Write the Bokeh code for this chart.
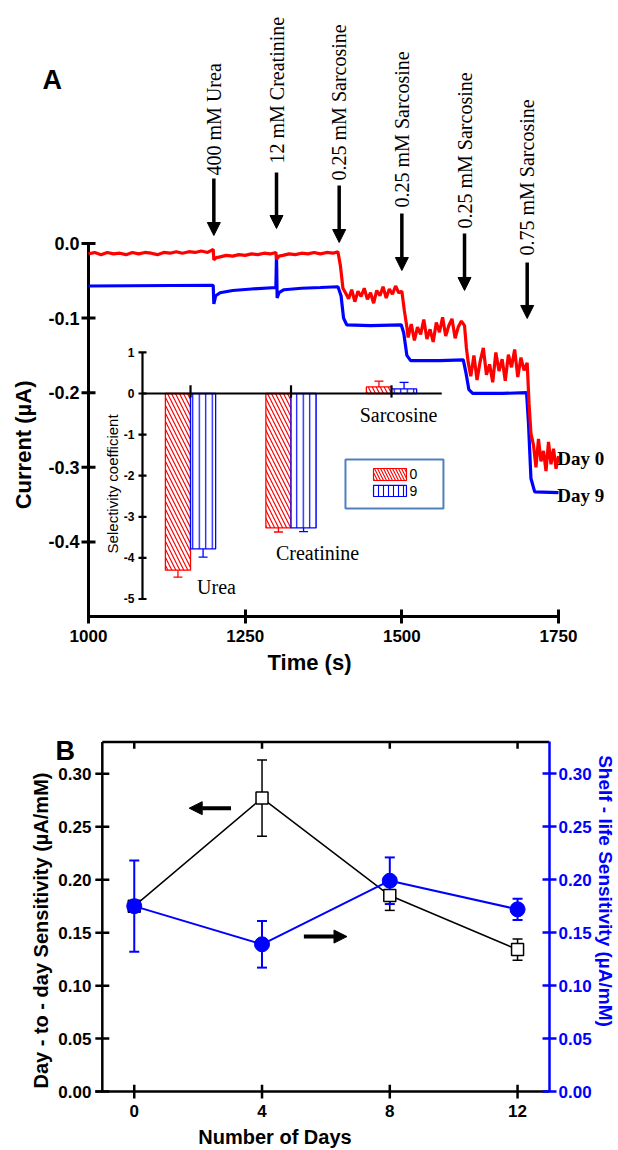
import math
from bokeh.plotting import figure
from bokeh.models import (Range1d, FixedTicker, PrintfTickFormatter, Arrow,
                          NormalHead, Whisker, TeeHead, ColumnDataSource)
from bokeh.embed import file_html
from bokeh.resources import INLINE
from bokeh.core.properties import value

# ---------------- Panel A data ----------------
red_t = [1000, 1010, 1020, 1030, 1040, 1050, 1060, 1070, 1080, 1090, 1100, 1110, 1120, 1130, 1140, 1150,
         1160, 1170, 1180, 1190, 1199,
         1200, 1204, 1210, 1220, 1230, 1240, 1250, 1260, 1270, 1280, 1290, 1299,
         1300, 1304, 1310, 1320, 1330, 1340, 1350, 1360, 1370, 1380, 1390, 1398,
         1402, 1406, 1410,
         1415, 1420, 1425, 1430, 1435, 1440, 1445, 1450, 1455, 1460, 1465, 1470, 1475, 1480, 1485, 1490, 1495,
         1500, 1504, 1508,
         1510, 1515, 1520, 1525, 1530, 1535, 1540, 1545, 1550, 1555, 1560, 1565, 1570, 1575, 1580, 1585, 1590, 1595,
         1600, 1603, 1606,
         1610, 1615, 1620, 1625, 1630, 1635, 1640, 1645, 1650, 1655, 1660, 1665, 1670, 1675, 1680, 1685, 1690, 1695,
         1700, 1703, 1706,
         1710, 1714, 1718, 1722, 1726, 1730, 1734, 1738, 1742, 1746, 1750]
red_i = [-0.014, -0.012, -0.015, -0.012, -0.014, -0.013, -0.015, -0.012, -0.014, -0.012, -0.013, -0.015, -0.012,
         -0.013, -0.011, -0.013, -0.011, -0.012, -0.010, -0.012, -0.008,
         -0.022, -0.019, -0.018, -0.016, -0.017, -0.015, -0.016, -0.014, -0.015, -0.013, -0.014, -0.012,
         -0.021, -0.017, -0.016, -0.014, -0.015, -0.013, -0.014, -0.012, -0.014, -0.012, -0.013, -0.011,
         -0.030, -0.060, -0.066,
         -0.074, -0.062, -0.078, -0.064, -0.071, -0.060, -0.075, -0.066, -0.080, -0.063, -0.070, -0.058, -0.073,
         -0.061, -0.068, -0.057, -0.066,
         -0.064, -0.090, -0.112,
         -0.126, -0.108, -0.130, -0.112, -0.122, -0.102, -0.128, -0.115, -0.132, -0.106, -0.119, -0.099, -0.124,
         -0.110, -0.101, -0.127, -0.112, -0.104,
         -0.110, -0.140, -0.160,
         -0.178, -0.150, -0.183, -0.158, -0.140, -0.176, -0.162, -0.186, -0.146, -0.171, -0.155, -0.184, -0.149,
         -0.166, -0.142, -0.179, -0.153, -0.170,
         -0.160, -0.215, -0.255,
         -0.270, -0.300, -0.262, -0.292, -0.278, -0.305, -0.266, -0.296, -0.275, -0.302, -0.285]

blue_t = [1000, 1199, 1200, 1203, 1210, 1230, 1260, 1299, 1300, 1301, 1304, 1312, 1340, 1370, 1398,
          1403, 1407, 1412, 1450, 1499, 1503, 1508, 1514, 1560, 1598, 1602, 1607, 1613, 1660, 1699,
          1702, 1706, 1712, 1750]
blue_i = [-0.057, -0.056, -0.081, -0.070, -0.066, -0.063, -0.061, -0.059, -0.015, -0.073, -0.066, -0.062,
          -0.060, -0.059, -0.058, -0.070, -0.100, -0.109, -0.110, -0.109, -0.120, -0.150, -0.157, -0.157,
          -0.156, -0.172, -0.196, -0.201, -0.201, -0.200, -0.240, -0.315, -0.333, -0.334]

add_times = [1200, 1300, 1400, 1500, 1600, 1700]
add_labels = ["400 mM Urea", "12 mM Creatinine", "0.25 mM Sarcosine", "0.25 mM Sarcosine",
              "0.25 mM Sarcosine", "0.75 mM Sarcosine"]
a_yticks = [-0.4, -0.3, -0.2, -0.1, 0.0]
a_xticks = [1000, 1250, 1500, 1750]

# inset (selectivity coefficients)
inset_cats = ["Urea", "Creatinine", "Sarcosine"]
inset_pos = [1, 2, 3]
sel_day0 = [-4.30, -3.27, 0.16]
sel_day0_err = [0.17, 0.10, 0.14]
sel_day9 = [-3.78, -3.27, 0.11]
sel_day9_err = [0.20, 0.09, 0.16]
inset_ticks = [-5, -4, -3, -2, -1, 0, 1]
legend_labels = ["0", "9"]

# ---------------- Panel B data ----------------
days = [0, 4, 8, 12]
d2d_sens = [0.175, 0.277, 0.185, 0.134]
d2d_err = [0.004, 0.036, 0.014, 0.010]
shelf_sens = [0.175, 0.139, 0.199, 0.172]
shelf_err = [0.043, 0.022, 0.022, 0.010]
b_yticks = [0.0, 0.05, 0.10, 0.15, 0.20, 0.25, 0.30]

SANS = "Liberation Sans"
SERIF = "Liberation Serif"

# ================= Panel A =================
A_XPX = 0.6267          # px per second
A_X0, A_X1 = 1000, 1750  # time axis extent
A_Y0, A_Y1 = -0.5, 0.0   # current axis extent
pA = figure(width=618, height=680, x_range=Range1d(A_X0 - 88 / A_XPX, A_X0 + 530 / A_XPX),
            y_range=Range1d(A_Y0, 0.3257), y_axis_location=None,
            output_backend="svg", toolbar_location=None,
            min_border_left=0, min_border_right=0, min_border_top=0, min_border_bottom=64)
pA.outline_line_color = None
pA.xgrid.visible = False
pA.ygrid.visible = False
pA.background_fill_color = None
pA.border_fill_color = "white"

xa = pA.xaxis[0]
xa.axis_line_width = 3
xa.major_tick_line_width = 3
xa.major_tick_in = 7
xa.major_tick_out = 7
xa.minor_tick_line_color = None
xa.major_label_text_font = SANS
xa.major_label_text_font_style = "bold"
xa.major_label_text_font_size = "17px"
xa.major_label_text_color = "black"
xa.axis_label_text_font = SANS
xa.axis_label_text_font_style = "bold"
xa.axis_label_text_font_size = "22px"
xa.axis_label_text_color = "black"
xa.bounds = (A_X0, A_X1)
xa.ticker = FixedTicker(ticks=a_xticks)
xa.axis_label = "Time (s)"
xa.major_label_standoff = 6

# left (current) axis drawn in the frame
tk = 7 / A_XPX
pA.segment(x0=A_X0, y0=A_Y0, x1=A_X0, y1=A_Y1, line_color="black", line_width=3)
pA.segment(x0=[A_X0 - tk] * len(a_yticks), y0=a_yticks, x1=[A_X0 + tk] * len(a_yticks), y1=a_yticks,
           line_color="black", line_width=3)
pA.text(x=[A_X0 - 9 / A_XPX] * len(a_yticks), y=a_yticks, text=["%.1f" % v for v in a_yticks],
        text_align="right", text_baseline="middle", text_font=value(SANS), text_font_style="bold",
        text_font_size="18px", text_color="black")
pA.text(x=[A_X0 - 65 / A_XPX], y=[-0.27], text=["Current (µA)"], angle=math.pi / 2, text_align="center",
        text_baseline="middle", text_font=value(SANS), text_font_style="bold", text_font_size="22px",
        text_color="black")
pA.text(x=[A_X0 - 46 / A_XPX], y=[0.2185], text=["A"], text_align="left", text_baseline="middle",
        text_font=value(SANS), text_font_style="bold", text_font_size="27px", text_color="black")

pA.line(blue_t, blue_i, line_color="blue", line_width=3.2)
pA.line(red_t, red_i, line_color="red", line_width=3.2)

# addition arrows + labels
arrow_top = [0.0871, 0.0952, 0.0777, 0.0402, 0.0134, -0.0255]
arrow_tip = [0.0107, 0.0201, 0.0013, -0.0362, -0.0630, -0.1005]
label_base = [0.0912, 0.1072, 0.0845, 0.0483, 0.0201, -0.0161]
for t, y0, y1 in zip(add_times, arrow_top, arrow_tip):
    pA.add_layout(Arrow(x_start=t, y_start=y0, x_end=t, y_end=y1, line_width=3.5, line_color="black",
                        end=NormalHead(size=13, fill_color="black", line_color="black")))
pA.text(x=add_times, y=label_base, text=add_labels, angle=math.pi / 2, text_align="left",
        text_baseline="middle", text_font=value(SERIF), text_font_size="20px", text_color="black")

pA.text(x=[1748, 1748], y=[-0.288, -0.338], text=["Day 0", "Day 9"], text_align="left",
        text_baseline="middle", text_font=value(SERIF), text_font_style="bold", text_font_size="19px",
        text_color="black")

# ---- inset ----
pA.extra_x_ranges = {"ix": Range1d(-0.891, 5.259)}
pA.extra_y_ranges = {"iy": Range1d(-5.426, 9.562)}
IR = dict(x_range_name="ix", y_range_name="iy")
bw = 0.25
x0s = [c - bw / 2 for c in inset_pos]
x9s = [c + bw / 2 for c in inset_pos]
pA.vbar(x=x0s, width=bw, top=0, bottom=sel_day0, fill_color="white", line_color="red", line_width=1.3,
        hatch_pattern="\\", hatch_color="red", hatch_scale=8, hatch_weight=1.2, **IR)
pA.vbar(x=x9s, width=bw, top=0, bottom=sel_day9, fill_color="white", line_color="blue", line_width=1.3,
        hatch_pattern="|", hatch_color="blue", hatch_scale=6.5, hatch_weight=1.2, **IR)
for xs, vals, errs, col in ((x0s, sel_day0, sel_day0_err, "red"), (x9s, sel_day9, sel_day9_err, "blue")):
    ends = [v + (e if v > 0 else -e) for v, e in zip(vals, errs)]
    src = ColumnDataSource(dict(base=xs, lower=vals, upper=ends))
    pA.add_layout(Whisker(source=src, base="base", lower="lower", upper="upper", line_color=col,
                          line_width=1.3, lower_head=None,
                          upper_head=TeeHead(size=9, line_color=col, line_width=1.3), **IR))

iax = 0.522
pA.segment(x0=iax, y0=min(inset_ticks), x1=iax, y1=max(inset_ticks), line_color="black", line_width=2.2, **IR)
pA.segment(x0=[iax - 0.04] * len(inset_ticks), y0=inset_ticks, x1=[iax + 0.04] * len(inset_ticks),
           y1=inset_ticks, line_color="black", line_width=2.2, **IR)
pA.text(x=[iax - 0.08] * len(inset_ticks), y=inset_ticks, text=[str(v) for v in inset_ticks],
        text_align="right", text_baseline="middle", text_font=value(SANS), text_font_style="bold",
        text_font_size="12px", text_color="black", **IR)
pA.segment(x0=iax, y0=0, x1=3.5, y1=0, line_color="black", line_width=2.2, **IR)
pA.segment(x0=inset_pos, y0=[-0.1] * 3, x1=inset_pos, y1=[0.2] * 3, line_color="black", line_width=2.2, **IR)
pA.text(x=[0.224], y=[-2.2], text=["Selectivity coefficient"], angle=math.pi / 2, text_align="center",
        text_baseline="middle", text_font=value(SANS), text_font_size="15px", text_color="black", **IR)
pA.text(x=[1.259, 2.264, 3.07], y=[-4.72, -3.89, -0.535], text=inset_cats, text_align="center",
        text_baseline="middle", text_font=value(SERIF), text_font_size="20px", text_color="black", **IR)
pA.quad(left=[2.542], right=[3.517], top=[-1.606], bottom=[-2.798], fill_color=None,
        line_color="#4F81BD", line_width=2, **IR)
pA.quad(left=[2.821], right=[3.149], top=[-1.825], bottom=[-2.117], fill_color="white", line_color="red",
        line_width=1.2, hatch_pattern="\\", hatch_color="red", hatch_scale=6, hatch_weight=1.1, **IR)
pA.quad(left=[2.821], right=[3.149], top=[-2.238], bottom=[-2.506], fill_color="white", line_color="blue",
        line_width=1.2, hatch_pattern="|", hatch_color="blue", hatch_scale=5, hatch_weight=1.1, **IR)
pA.text(x=[3.18, 3.18], y=[-1.97, -2.37], text=legend_labels, text_align="left", text_baseline="middle",
        text_font=value(SANS), text_font_size="14px", text_color="black", **IR)

# ================= Panel B =================
B_XPX = 32.0             # px per day
B_X0, B_X1 = -1, 13
B_Y0, B_Y1 = 0.0, 0.33
B_YPX = 353 / B_Y1       # px per µA/mM
pB = figure(width=618, height=470, x_range=Range1d(B_X0 - 102 / B_XPX, B_X1),
            y_range=Range1d(B_Y0 - 10 / B_YPX, B_Y1 + 62 / B_YPX), y_axis_location="right",
            output_backend="svg", toolbar_location=None,
            min_border_left=0, min_border_right=68, min_border_top=0, min_border_bottom=45)
pB.outline_line_color = None
pB.xgrid.visible = False
pB.ygrid.visible = False

for ax in pB.xaxis + pB.yaxis:
    ax.axis_line_width = 2.5
    ax.major_tick_line_width = 2.5
    ax.major_tick_in = 7
    ax.major_tick_out = 7
    ax.minor_tick_line_color = None
    ax.major_label_text_font = SANS
    ax.major_label_text_font_style = "bold"
    ax.major_label_text_font_size = "17px"
    ax.major_label_text_color = "black"
    ax.axis_label_text_font = SANS
    ax.axis_label_text_font_style = "bold"
    ax.axis_label_text_font_size = "20px"
    ax.axis_label_text_color = "black"

# bottom axis: labels from Bokeh, line/ticks drawn at y = 0 below
xb = pB.xaxis[0]
xb.ticker = FixedTicker(ticks=days)
xb.bounds = (B_X0, B_X1)
xb.axis_label = "Number of Days"
xb.axis_line_color = None
xb.major_tick_line_color = None
xb.major_tick_in = 0
xb.major_tick_out = 0
xb.major_label_standoff = 3
xb.axis_label_standoff = 6

rb = pB.yaxis[0]
rb.ticker = FixedTicker(ticks=b_yticks)
rb.formatter = PrintfTickFormatter(format="%.2f")
rb.bounds = (B_Y0, B_Y1)
rb.axis_line_color = "blue"
rb.major_tick_line_color = "blue"
rb.major_label_text_color = "blue"
rb.major_label_standoff = 2
rb.axis_label = "Shelf - life Sensitivity (µA/mM)"
rb.axis_label_text_color = "blue"
rb.axis_label_text_font_size = "19px"
rb.axis_label_standoff = 0

# left axis, bottom axis line and top frame line drawn in the frame
tkb = 7 / B_XPX
tkv = 7 / B_YPX
pB.segment(x0=B_X0, y0=B_Y0, x1=B_X0, y1=B_Y1, line_color="black", line_width=2.5)
pB.segment(x0=B_X0, y0=B_Y1, x1=B_X1, y1=B_Y1, line_color="black", line_width=2.5)
pB.segment(x0=B_X0 - tkb, y0=B_Y0, x1=B_X1, y1=B_Y0, line_color="black", line_width=2.5)
pB.segment(x0=[B_X0 - tkb] * len(b_yticks), y0=b_yticks, x1=[B_X0 + tkb] * len(b_yticks), y1=b_yticks,
           line_color="black", line_width=2.5)
pB.segment(x0=days, y0=[B_Y1] * len(days), x1=days, y1=[B_Y1 - tkv] * len(days),
           line_color="black", line_width=2.5)
pB.segment(x0=days, y0=[B_Y0 - tkv] * len(days), x1=days, y1=[B_Y0 + tkv] * len(days),
           line_color="black", line_width=2.5)
pB.text(x=[B_X0 - 11 / B_XPX] * len(b_yticks), y=b_yticks, text=["%.2f" % v for v in b_yticks],
        text_align="right", text_baseline="middle", text_font=value(SANS), text_font_style="bold",
        text_font_size="17px", text_color="black")
pB.text(x=[B_X0 - 61 / B_XPX], y=[0.152], text=["Day - to - day Sensitivity (µA/mM)"], angle=math.pi / 2,
        text_align="center", text_baseline="middle", text_font=value(SANS), text_font_style="bold",
        text_font_size="20px", text_color="black")
pB.text(x=[B_X0 - 47 / B_XPX], y=[0.3216], text=["B"], text_align="left", text_baseline="middle",
        text_font=value(SANS), text_font_style="bold", text_font_size="27px", text_color="black")

# black: day-to-day
pB.line(days, d2d_sens, line_color="black", line_width=1.5)
pB.add_layout(Whisker(source=ColumnDataSource(dict(x=days, lo=[v - e for v, e in zip(d2d_sens, d2d_err)],
                                                   hi=[v + e for v, e in zip(d2d_sens, d2d_err)])),
                      base="x", lower="lo", upper="hi", line_color="black", line_width=1.5,
                      lower_head=TeeHead(size=10, line_color="black", line_width=1.5),
                      upper_head=TeeHead(size=10, line_color="black", line_width=1.5)))
pB.scatter(days, d2d_sens, marker="square", size=12, fill_color="white", line_color="black", line_width=1.5)

# blue: shelf-life
pB.line(days, shelf_sens, line_color="blue", line_width=2)
pB.add_layout(Whisker(source=ColumnDataSource(dict(x=days, lo=[v - e for v, e in zip(shelf_sens, shelf_err)],
                                                   hi=[v + e for v, e in zip(shelf_sens, shelf_err)])),
                      base="x", lower="lo", upper="hi", line_color="blue", line_width=2,
                      lower_head=TeeHead(size=10, line_color="blue", line_width=2),
                      upper_head=TeeHead(size=10, line_color="blue", line_width=2)))
pB.scatter(days, shelf_sens, marker="circle", size=15, fill_color="blue", line_color="blue")

# axis-pointer arrows
pB.add_layout(Arrow(x_start=3.03, y_start=0.2675, x_end=1.72, y_end=0.2675, line_width=4, line_color="black",
                    end=NormalHead(size=13, fill_color="black", line_color="black")))
pB.add_layout(Arrow(x_start=5.31, y_start=0.1463, x_end=6.66, y_end=0.1463, line_width=4, line_color="black",
                    end=NormalHead(size=13, fill_color="black", line_color="black")))

open("out.html", "w").write(file_html([pA, pB], INLINE))
